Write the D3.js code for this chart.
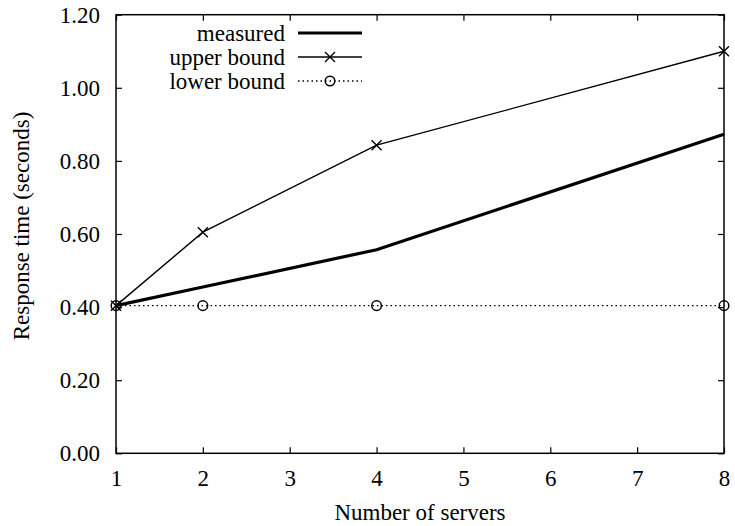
<!DOCTYPE html>
<html><head><meta charset="utf-8">
<script src="https://cdn.jsdelivr.net/npm/d3@7"></script>
<style>body{margin:0;background:#fff}svg{display:block}</style>
</head><body><svg id="c" width="735" height="526"></svg>
<script>
const servers = [1, 2, 4, 8];
const measured = [0.404, 0.455, 0.557, 0.873];
const upperBound = [0.404, 0.605, 0.843, 1.100];
const lowerBound = [0.404, 0.404, 0.404, 0.404];
const xTicks = [1, 2, 3, 4, 5, 6, 7, 8];
const yTicks = [0, 0.2, 0.4, 0.6, 0.8, 1.0, 1.2];
const seriesNames = ["measured", "upper bound", "lower bound"];

const FONT = "'Liberation Serif', 'Times New Roman', Times, serif";
const fs = 23;
const svg = d3.select("#c");
const L = 116, R = 724, T = 14.7, B = 453.3;
const x = d3.scaleLinear().domain([1, 8]).range([L, R]);
const y = d3.scaleLinear().domain([0, 1.2]).range([B, T]);
function styleText(sel) { return sel.style("font-family", FONT).style("font-size", fs + "px").style("fill", "#000"); }

const tl = 6;
const g = svg.append("g");
g.append("g").attr("transform", `translate(0,${B})`)
  .call(d3.axisBottom(x).tickValues(xTicks).tickSizeInner(-tl).tickSizeOuter(0).tickPadding(16).tickFormat(d3.format("d")))
  .call(a => { a.select(".domain").remove(); styleText(a.selectAll("text")); });
g.append("g").attr("transform", `translate(0,${T})`)
  .call(d3.axisTop(x).tickValues(xTicks).tickSizeInner(-tl).tickSizeOuter(0).tickFormat(""))
  .call(a => a.select(".domain").remove());
g.append("g").attr("transform", `translate(${L},0)`)
  .call(d3.axisLeft(y).tickValues(yTicks).tickSizeInner(-tl).tickSizeOuter(0).tickPadding(16).tickFormat(d3.format(".2f")))
  .call(a => { a.select(".domain").remove(); styleText(a.selectAll("text")); });
g.append("g").attr("transform", `translate(${R},0)`)
  .call(d3.axisRight(y).tickValues(yTicks).tickSizeInner(-tl).tickSizeOuter(0).tickFormat(""))
  .call(a => a.select(".domain").remove());
g.selectAll(".tick line").attr("stroke", "#000").attr("stroke-width", 1.2);

svg.append("rect").attr("x", L).attr("y", T).attr("width", R - L).attr("height", B - T)
  .attr("fill", "none").attr("stroke", "#000").attr("stroke-width", 1.5);

styleText(svg.append("text").attr("x", (L + R) / 2).attr("y", 520).attr("text-anchor", "middle").text("Number of servers"));
styleText(svg.append("text").attr("transform", `translate(29,${(T + B) / 2 - 8}) rotate(-90)`).attr("text-anchor", "middle").text("Response time (seconds)"));

const line = d3.line().x(d => x(d[0])).y(d => y(d[1]));
const zip = vals => servers.map((s, i) => [s, vals[i]]);

svg.append("path").datum(zip(lowerBound)).attr("d", line).attr("fill", "none").attr("stroke", "#000").attr("stroke-width", 1.3).attr("stroke-dasharray", "1.5,3");
svg.append("path").datum(zip(upperBound)).attr("d", line).attr("fill", "none").attr("stroke", "#000").attr("stroke-width", 1.4);
svg.append("path").datum(zip(measured)).attr("d", line).attr("fill", "none").attr("stroke", "#000").attr("stroke-width", 3.2);

function cross(gg, cx, cy) {
  const s = 5;
  gg.append("path").attr("d", `M${cx - s},${cy - s}L${cx + s},${cy + s}M${cx - s},${cy + s}L${cx + s},${cy - s}`).attr("stroke", "#000").attr("stroke-width", 1.4);
}
function circ(gg, cx, cy) {
  gg.append("circle").attr("cx", cx).attr("cy", cy).attr("r", 4.8).attr("fill", "none").attr("stroke", "#000").attr("stroke-width", 1.5);
}
const mk = svg.append("g");
zip(upperBound).forEach(d => cross(mk, x(d[0]), y(d[1])));
zip(lowerBound).forEach(d => circ(mk, x(d[0]), y(d[1])));

const lg = svg.append("g");
const rowsY = [33, 57, 81];
seriesNames.forEach((n, i) => {
  styleText(lg.append("text").attr("x", 285).attr("y", rowsY[i]).attr("dy", "0.35em").attr("text-anchor", "end").text(n));
});
lg.append("line").attr("x1", 298).attr("x2", 362).attr("y1", rowsY[0]).attr("y2", rowsY[0]).attr("stroke", "#000").attr("stroke-width", 3.2);
lg.append("line").attr("x1", 298).attr("x2", 362).attr("y1", rowsY[1]).attr("y2", rowsY[1]).attr("stroke", "#000").attr("stroke-width", 1.4);
cross(lg, 330, rowsY[1]);
lg.append("line").attr("x1", 298).attr("x2", 362).attr("y1", rowsY[2]).attr("y2", rowsY[2]).attr("stroke", "#000").attr("stroke-width", 1.3).attr("stroke-dasharray", "1.5,3");
circ(lg, 330, rowsY[2]);
</script></body></html>
